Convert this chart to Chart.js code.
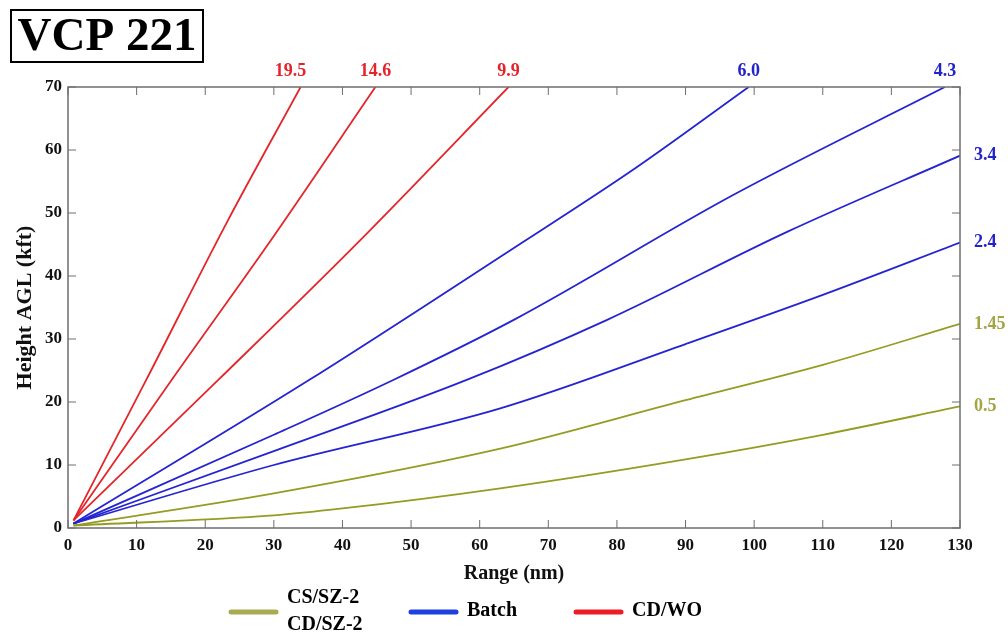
<!DOCTYPE html>
<html>
<head>
<meta charset="utf-8">
<script src="https://cdn.jsdelivr.net/npm/chart.js@4/dist/chart.umd.min.js"></script>
<style>
  html, body { margin: 0; padding: 0; background: #fff; }
  #wrap { width: 1008px; height: 633px; position: relative; }
</style>
</head>
<body>
<div id="wrap"><canvas id="chart_vcp"></canvas></div>
<script>
// beam height (kft) vs range (nm)
const r_05 = [0.8, 30, 40, 63, 90, 110, 130];
const h_05 = [0.4, 2.0, 3.1, 6.3, 10.9, 14.8, 19.3];
const r_145 = [0.8, 30, 63, 90, 110, 130];
const h_145 = [0.4, 5.5, 12.6, 20.3, 25.9, 32.4];
const r_24 = [0.8, 30, 63, 90, 110, 130];
const h_24 = [0.7, 10.0, 19.0, 29.2, 37.0, 45.3];
const r_34 = [0.8, 30, 58.1, 78.5, 104.8, 130];
const h_34 = [0.7, 12.2, 23.5, 33.0, 47.0, 59.1];
const r_43 = [0.8, 30, 47.4, 64.9, 97, 127.8];
const h_43 = [0.7, 14.8, 23.5, 33.0, 52.9, 70];
const r_60 = [0.8, 35.3, 64.2, 82.4, 99.2];
const h_60 = [0.7, 23.6, 43.9, 56.9, 70];
const r_99 = [0.8, 21.9, 42.6, 64.2];
const h_99 = [1.2, 23.5, 45.7, 70];
const r_146 = [0.8, 15.1, 29.9, 44.8];
const h_146 = [1.2, 23.5, 46.2, 70];
const r_195 = [0.8, 11.4, 23.1, 33.9];
const h_195 = [1.2, 23.5, 48.4, 70];

const elevLabels = ["0.5", "1.45", "2.4", "3.4", "4.3", "6.0", "9.9", "14.6", "19.5"];
const groups = ["olive", "olive", "blue", "blue", "blue", "blue", "red", "red", "red"];
const xTicks = [0, 10, 20, 30, 40, 50, 60, 70, 80, 90, 100, 110, 120, 130];
const yTicks = [0, 10, 20, 30, 40, 50, 60, 70];

const lineColors = { olive: "#959c22", blue: "#2424d2", red: "#e3262a" };
const textColors = { olive: "#a3a442", blue: "#2323cc", red: "#e4232b" };
const legendColors = { olive: "#a9ab52", blue: "#1f3fe0", red: "#ee1c24" };
const legendNames = [["olive", ["CS/SZ-2", "CD/SZ-2"]], ["blue", ["Batch"]], ["red", ["CD/WO"]]];

const allR = [r_05, r_145, r_24, r_34, r_43, r_60, r_99, r_146, r_195];
const allH = [h_05, h_145, h_24, h_34, h_43, h_60, h_99, h_146, h_195];

const serif = "'Liberation Serif', 'Times New Roman', serif";

let datasets = allR.map(function (rs, i) {
  return {
    label: elevLabels[i],
    data: rs.map(function (r, j) { return { x: r, y: allH[i][j] }; }),
    borderColor: lineColors[groups[i]],
    borderWidth: 1.8,
    pointRadius: 0,
    fill: false,
    cubicInterpolationMode: "monotone",
  };
});

const framePlugin = {
  id: "frame",
  afterDraw: function (chart) {
    const ctx = chart.ctx;
    const a = chart.chartArea;
    const xs = chart.scales.x, ys = chart.scales.y;
    ctx.save();
    // box + inward ticks
    ctx.strokeStyle = "#6e6e6e";
    ctx.lineWidth = 1.5;
    ctx.strokeRect(a.left, a.top, a.right - a.left, a.bottom - a.top);
    ctx.lineWidth = 1;
    xTicks.forEach(function (t) {
      const px = xs.getPixelForValue(t);
      ctx.beginPath();
      ctx.moveTo(px, a.bottom); ctx.lineTo(px, a.bottom - 8);
      ctx.moveTo(px, a.top); ctx.lineTo(px, a.top + 8);
      ctx.stroke();
    });
    yTicks.forEach(function (t) {
      const py = ys.getPixelForValue(t);
      ctx.beginPath();
      ctx.moveTo(a.left, py); ctx.lineTo(a.left + 8, py);
      ctx.moveTo(a.right, py); ctx.lineTo(a.right - 8, py);
      ctx.stroke();
    });

    // elevation labels at line ends
    ctx.font = "bold 18px " + serif;
    chart.data.datasets.forEach(function (ds, i) {
      const last = ds.data[ds.data.length - 1];
      ctx.fillStyle = textColors[groups[i]];
      if (last.y >= 70) {
        ctx.textAlign = "center";
        ctx.textBaseline = "alphabetic";
        ctx.fillText(ds.label, xs.getPixelForValue(last.x) - (i == 8 ? 10 : 0), a.top - 11);
      } else {
        ctx.textAlign = "left";
        ctx.textBaseline = "middle";
        ctx.fillText(ds.label, a.right + 14, ys.getPixelForValue(last.y));
      }
    });

    // title box
    ctx.strokeStyle = "#000";
    ctx.lineWidth = 2;
    ctx.strokeRect(11, 10, 192, 52);
    ctx.fillStyle = "#000";
    ctx.font = "bold 47px " + serif;
    ctx.textAlign = "center";
    ctx.textBaseline = "middle";
    ctx.fillText("VCP 221", 107, 38);

    // legend
    const lx = [231, 411, 576];
    ctx.font = "bold 20px " + serif;
    ctx.textAlign = "left";
    legendNames.forEach(function (item, k) {
      ctx.strokeStyle = legendColors[item[0]];
      ctx.lineWidth = 5;
      ctx.lineCap = "round";
      ctx.beginPath();
      ctx.moveTo(lx[k], 612); ctx.lineTo(lx[k] + 45, 612);
      ctx.stroke();
      ctx.fillStyle = "#000";
      const lines = item[1];
      lines.forEach(function (s, j) {
        const y = 611 + (j - (lines.length - 1) / 2) * 27;
        ctx.fillText(s, lx[k] + 56, y);
      });
    });
    ctx.restore();
  }
};

new Chart(document.getElementById("chart_vcp").getContext("2d"), {
  type: "line",
  data: { datasets: datasets },
  options: {
    responsive: true,
    maintainAspectRatio: false,
    animation: false,
    layout: { padding: { top: 87, right: 48, bottom: 43, left: 10 } },
    plugins: { legend: { display: false }, tooltip: { enabled: false } },
    scales: {
      x: {
        type: "linear",
        min: 0, max: 130,
        afterBuildTicks: function (s) { s.ticks = xTicks.map(function (v) { return { value: v }; }); },
        afterFit: function (s) { s.height = 62; },
        grid: { display: false, drawTicks: false },
        border: { display: false },
        ticks: { color: "#111", padding: 7, maxRotation: 0, font: { family: serif, weight: "bold", size: 17 } },
        title: { display: true, text: "Range (nm)", color: "#111", padding: { top: 1 }, font: { family: serif, weight: "bold", size: 20 } },
      },
      y: {
        type: "linear",
        min: 0, max: 70,
        afterBuildTicks: function (s) { s.ticks = yTicks.map(function (v) { return { value: v }; }); },
        afterFit: function (s) { s.width = 58; },
        grid: { display: false, drawTicks: false },
        border: { display: false },
        ticks: { color: "#111", padding: 6, font: { family: serif, weight: "bold", size: 17 } },
        title: { display: true, text: "Height AGL (kft)", color: "#111", padding: { top: 2, bottom: 2 }, font: { family: serif, weight: "bold", size: 22 } },
      },
    },
  },
  plugins: [framePlugin],
});
</script>
</body>
</html>
